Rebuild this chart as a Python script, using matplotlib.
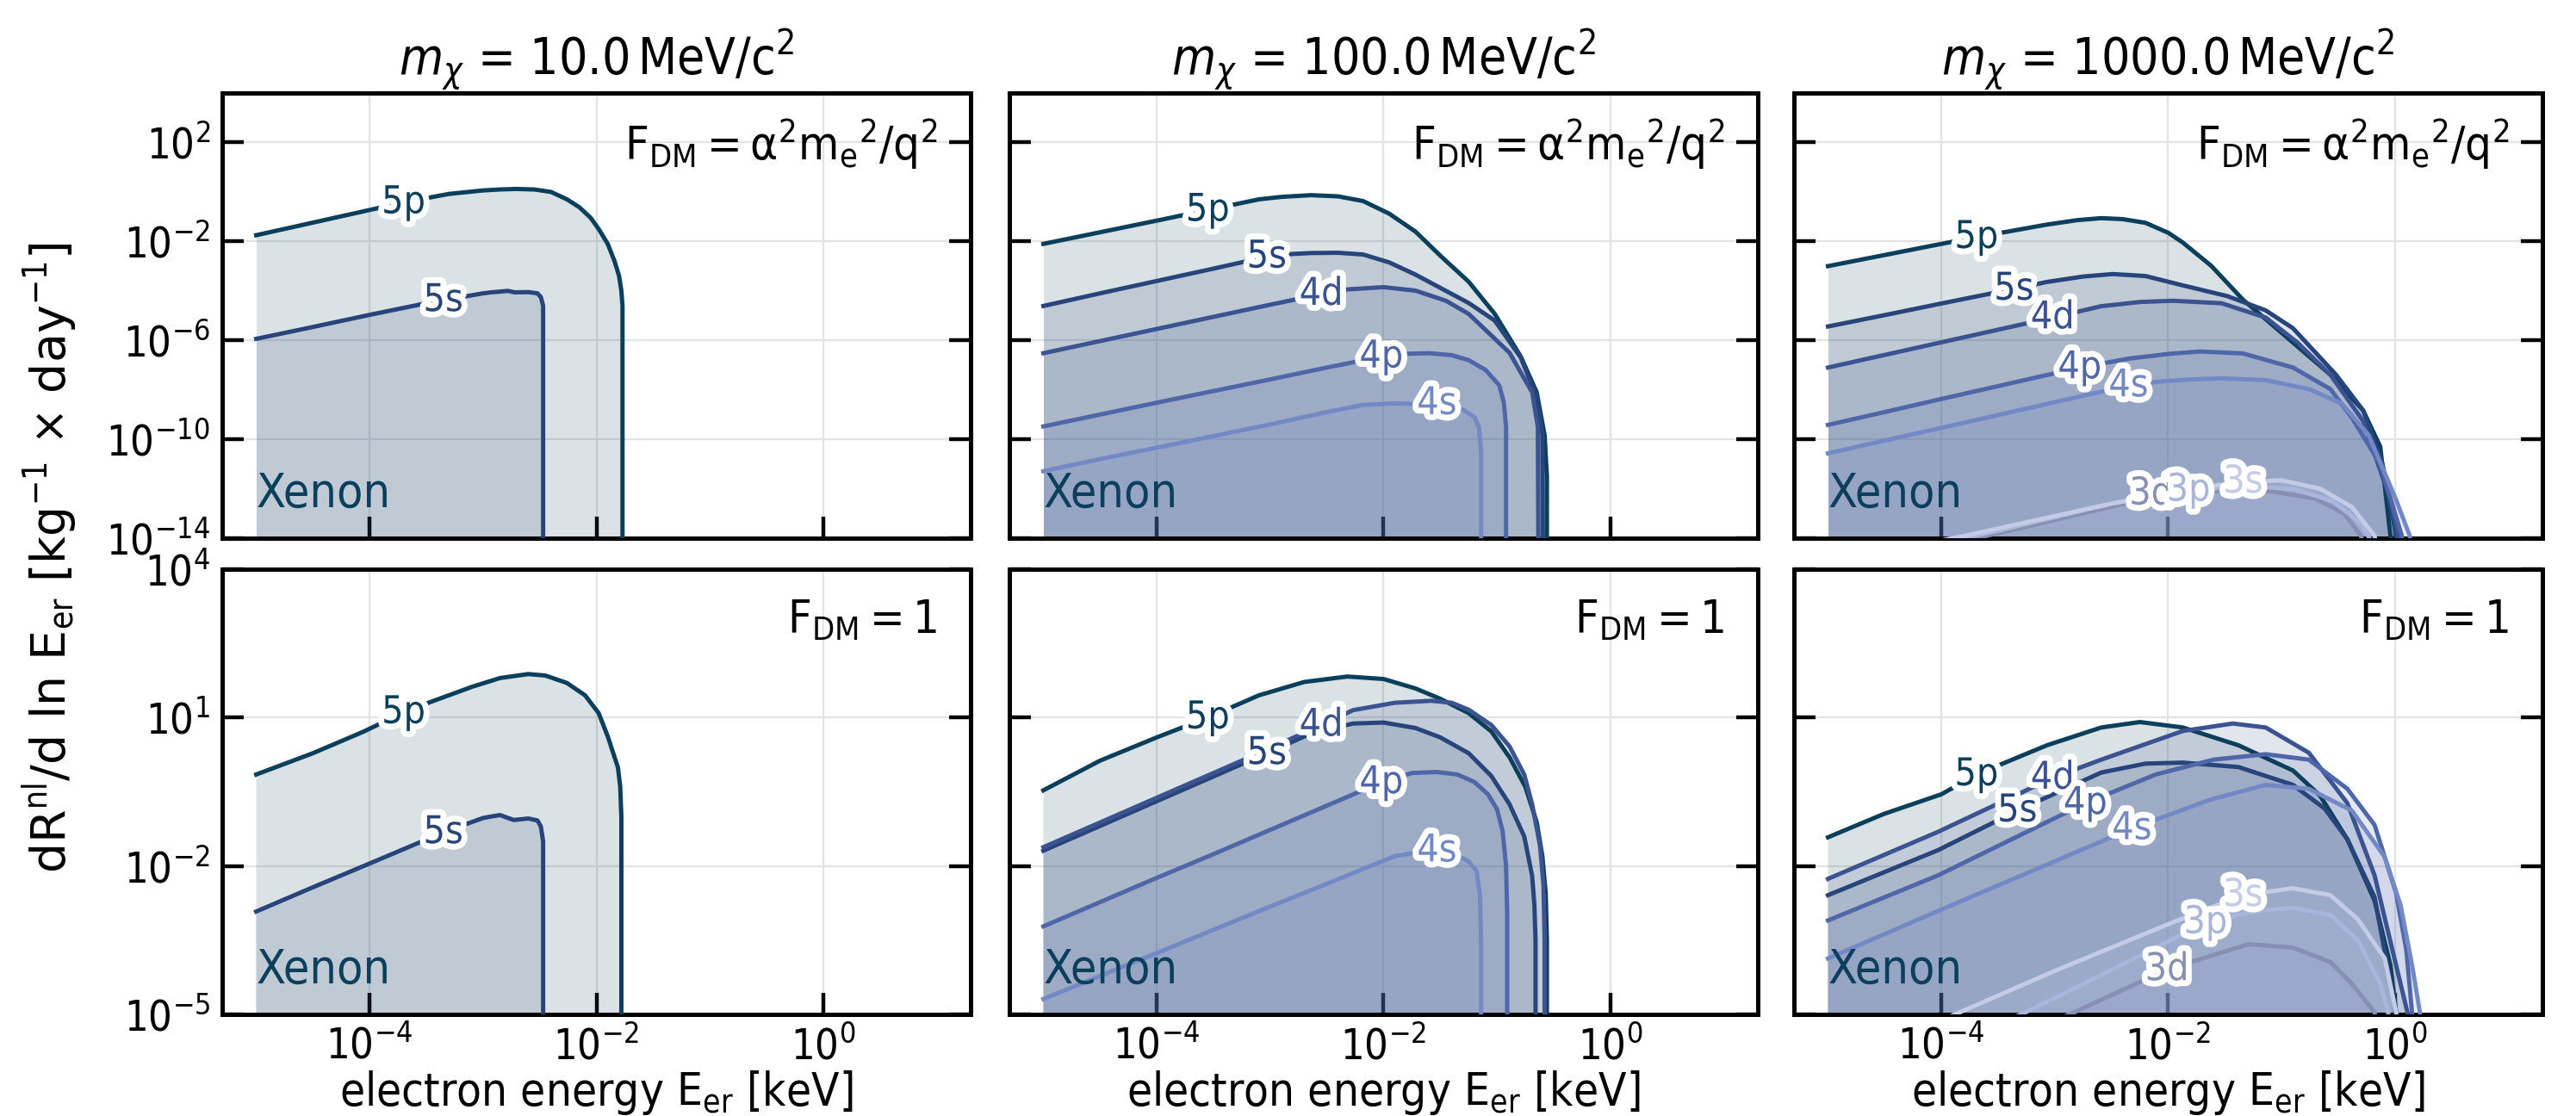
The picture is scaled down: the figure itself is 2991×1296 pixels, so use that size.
import numpy as np
import matplotlib
matplotlib.use('Agg')
import matplotlib.pyplot as plt
import matplotlib.patheffects as pe
import matplotlib.font_manager as fm
from matplotlib.ticker import FixedLocator, NullLocator

# ---- data (log10 E [keV], log10 rate) ----
MASSES = ['10.0', '100.0', '1000.0']
FORM_FACTORS = [r'$\mathrm{F_{DM} = \alpha^2 m_e{}^2/q^2}$', r'$\mathrm{F_{DM} = 1}$']
SHELLS = ['5p', '5s', '4d', '4p', '4s', '3d', '3p', '3s']
SHELL_COLORS = ['#0c3f5c', '#27457a', '#3b5391', '#4f66a8', '#7389c6',
                '#8790b2', '#a9b5da', '#c3cbe6']
XTICKS = [1e-4, 1e-2, 1e0]
YTICKS_TOP = [1e-14, 1e-10, 1e-6, 1e-2, 1e2]
YTICKS_BOT = [1e-5, 1e-2, 1e1, 1e4]

# top row: F_DM = alpha^2 me^2 / q^2
m10_q2 = {
    '5p': ([-5.0, -4.5, -4.0, -3.72, -3.3, -3.0, -2.85, -2.71, -2.55, -2.4, -2.26, -2.15, -2.05, -1.98, -1.9, -1.84, -1.8, -1.78, -1.77, -1.77],
           [-1.75, -1.24, -0.73, -0.44, -0.08, 0.06, 0.1, 0.12, 0.1, 0.0, -0.3, -0.62, -1.05, -1.5, -2.1, -2.8, -3.4, -4.0, -4.6, -20]),
    '5s': ([-5.0, -4.5, -4.0, -3.5, -3.0, -2.93, -2.85, -2.78, -2.72, -2.6, -2.52, -2.49, -2.47, -2.47],
           [-5.94, -5.46, -4.97, -4.5, -4.1, -4.06, -4.03, -4.0, -4.06, -4.05, -4.1, -4.25, -4.6, -20]),
}
m100_q2 = {
    '5p': ([-5.0, -4.5, -4.0, -3.56, -3.1, -2.9, -2.64, -2.4, -2.18, -1.95, -1.72, -1.49, -1.25, -1.02, -0.79, -0.65, -0.58, -0.56, -0.56],
           [-2.1, -1.63, -1.16, -0.74, -0.3, -0.2, -0.13, -0.18, -0.37, -0.88, -1.6, -2.62, -3.63, -4.93, -6.66, -8.1, -9.84, -11.5, -20]),
    '5s': ([-5.0, -4.5, -4.0, -3.5, -3.03, -2.85, -2.64, -2.4, -2.18, -1.95, -1.72, -1.25, -1.02, -0.79, -0.65, -0.6, -0.59],
           [-4.61, -4.1, -3.6, -3.1, -2.62, -2.52, -2.47, -2.46, -2.53, -2.85, -3.34, -4.49, -5.2, -6.7, -8.3, -9.8, -20]),
    '4d': ([-5.0, -4.5, -4.0, -3.5, -3.0, -2.55, -2.35, -2.0, -1.72, -1.45, -1.25, -0.89, -0.69, -0.64, -0.63],
           [-6.52, -6.03, -5.54, -5.05, -4.56, -4.13, -3.95, -3.85, -3.99, -4.4, -4.93, -6.5, -8.1, -9.5, -20]),
    '4p': ([-5.0, -4.5, -4.0, -3.5, -3.0, -2.5, -2.02, -1.85, -1.6, -1.4, -1.25, -1.1, -0.98, -0.94, -0.92, -0.92],
           [-9.48, -9.0, -8.52, -8.05, -7.58, -7.1, -6.66, -6.55, -6.52, -6.6, -6.8, -7.2, -7.82, -8.5, -9.5, -20]),
    '4s': ([-5.0, -4.5, -4.0, -3.5, -3.0, -2.5, -2.18, -1.9, -1.5, -1.3, -1.2, -1.16, -1.14, -1.14],
           [-11.29, -10.8, -10.34, -9.87, -9.4, -8.9, -8.61, -8.55, -8.6, -8.8, -9.1, -9.5, -10.5, -20]),
}
m1000_q2 = {
    '5p': ([-5.0, -4.5, -4.0, -3.69, -3.07, -2.8, -2.59, -2.4, -2.2, -2.0, -1.87, -1.62, -1.34, -0.9, -0.57, -0.28, -0.13, -0.04, 0.0],
           [-3.0, -2.55, -2.1, -1.83, -1.32, -1.14, -1.06, -1.1, -1.25, -1.65, -2.05, -2.99, -4.36, -6.09, -7.39, -8.84, -10.3, -13.9, -16]),
    '5s': ([-5.0, -4.5, -4.0, -3.36, -3.07, -2.75, -2.49, -2.2, -1.87, -1.48, -1.14, -0.9, -0.52, -0.28, -0.11, 0.01, 0.05],
           [-5.44, -4.98, -4.51, -3.92, -3.64, -3.42, -3.32, -3.4, -3.78, -4.21, -4.79, -5.51, -7.39, -8.84, -11.0, -13.9, -16]),
    '4d': ([-5.0, -4.5, -4.0, -3.5, -3.02, -2.59, -2.25, -1.96, -1.53, -1.14, -0.86, -0.57, -0.28, -0.04, 0.03, 0.07],
           [-7.1, -6.59, -6.08, -5.57, -5.08, -4.62, -4.45, -4.4, -4.5, -5.08, -6.09, -7.39, -9.27, -12.45, -13.9, -16]),
    '4p': ([-5.0, -4.5, -4.0, -3.5, -2.78, -2.35, -2.0, -1.72, -1.34, -0.9, -0.57, -0.38, -0.13, 0.06, 0.1],
           [-9.42, -8.9, -8.37, -7.85, -7.1, -6.74, -6.55, -6.45, -6.53, -7.1, -7.97, -9.13, -11.0, -13.9, -16]),
    '4s': ([-5.0, -4.5, -4.0, -3.5, -3.0, -2.35, -2.11, -1.8, -1.53, -1.14, -0.76, -0.47, -0.23, 0.01, 0.13, 0.17],
           [-10.57, -10.05, -9.54, -9.02, -8.5, -7.83, -7.68, -7.58, -7.54, -7.61, -7.97, -8.55, -9.85, -12.45, -13.9, -16]),
    '3d': ([-5.0, -3.5, -2.15, -1.6, -1.1, -0.7, -0.45, -0.3, -0.22],
           [-15.3, -13.8, -12.35, -12.1, -12.1, -12.4, -13.0, -13.9, -16]),
    '3p': ([-5.0, -3.5, -2.5, -1.82, -1.3, -0.9, -0.55, -0.3, -0.2, -0.12],
           [-15.2, -13.7, -12.6, -12.05, -11.9, -12.0, -12.5, -13.4, -14.2, -16]),
    '3s': ([-5.0, -3.79, -2.5, -1.8, -1.34, -1.0, -0.66, -0.38, -0.18, -0.1],
           [-15.0, -13.9, -12.6, -12.0, -11.72, -11.66, -12.0, -12.74, -13.9, -16]),
}

# bottom row: F_DM = 1
m10_f1 = {
    '5p': ([-5.0, -4.5, -4.05, -3.66, -3.1, -2.85, -2.6, -2.45, -2.26, -2.1, -1.98, -1.9, -1.84, -1.81, -1.79, -1.78, -1.78],
           [-0.15, 0.28, 0.72, 1.15, 1.62, 1.8, 1.88, 1.85, 1.7, 1.45, 1.09, 0.62, 0.2, -0.01, -0.4, -1.0, -10]),
    '5s': ([-5.0, -4.5, -4.0, -3.35, -3.0, -2.93, -2.85, -2.73, -2.6, -2.52, -2.49, -2.47, -2.47],
           [-2.92, -2.43, -1.95, -1.32, -1.03, -1.0, -0.97, -1.07, -1.04, -1.08, -1.2, -1.5, -10]),
}
m100_f1 = {
    '5p': ([-5.0, -4.5, -4.0, -3.54, -3.1, -2.7, -2.32, -2.0, -1.72, -1.5, -1.25, -1.05, -0.89, -0.75, -0.65, -0.6, -0.57, -0.56, -0.56],
           [-0.47, 0.13, 0.6, 1.01, 1.45, 1.72, 1.83, 1.78, 1.59, 1.38, 1.09, 0.72, 0.2, -0.4, -1.11, -1.8, -2.57, -3.5, -10]),
    '5s': ([-5.0, -4.5, -4.0, -3.5, -3.03, -2.64, -2.27, -2.0, -1.72, -1.5, -1.25, -1.05, -0.89, -0.76, -0.69, -0.67, -0.66, -0.66],
           [-1.69, -1.19, -0.69, -0.19, 0.28, 0.68, 0.88, 0.9, 0.79, 0.6, 0.28, -0.18, -0.75, -1.4, -2.2, -2.8, -3.5, -10]),
    '4d': ([-5.0, -4.5, -4.0, -3.5, -3.0, -2.55, -2.27, -1.9, -1.58, -1.4, -1.25, -1.05, -0.89, -0.76, -0.69, -0.62, -0.59, -0.58, -0.58],
           [-1.62, -1.12, -0.62, -0.12, 0.38, 0.85, 1.15, 1.3, 1.34, 1.3, 1.16, 0.85, 0.42, -0.15, -0.75, -1.6, -2.4, -3.5, -10]),
    '4p': ([-5.0, -4.5, -4.0, -3.5, -3.0, -2.5, -2.02, -1.75, -1.53, -1.35, -1.2, -1.08, -1.0, -0.95, -0.92, -0.91, -0.91],
           [-3.22, -2.73, -2.24, -1.76, -1.27, -0.78, -0.31, -0.12, -0.1, -0.15, -0.3, -0.55, -0.85, -1.3, -2.0, -3.0, -10]),
    '4s': ([-5.0, -4.5, -4.0, -3.5, -3.0, -2.5, -2.18, -1.9, -1.72, -1.53, -1.38, -1.25, -1.18, -1.15, -1.14, -1.14],
           [-4.69, -4.22, -3.76, -3.29, -2.82, -2.36, -2.06, -1.8, -1.73, -1.69, -1.75, -1.91, -2.1, -2.6, -3.5, -10]),
}
m1000_f1 = {
    '5p': ([-5.0, -4.51, -4.0, -3.69, -3.07, -2.59, -2.25, -1.87, -1.38, -0.9, -0.66, -0.42, -0.18, -0.04, 0.01, 0.05],
           [-1.42, -0.95, -0.55, -0.15, 0.44, 0.8, 0.91, 0.8, 0.44, -0.07, -0.58, -1.46, -2.7, -4.01, -4.96, -6]),
    '5s': ([-5.0, -4.03, -3.33, -2.59, -2.2, -1.87, -1.38, -0.9, -0.62, -0.42, -0.18, 0.01, 0.05],
           [-2.59, -1.68, -0.88, -0.11, 0.07, 0.09, 0.0, -0.36, -0.84, -1.46, -2.63, -4.96, -6]),
    '4d': ([-5.0, -4.03, -3.02, -2.59, -1.87, -1.43, -1.14, -0.76, -0.42, -0.18, 0.01, 0.11, 0.15],
           [-2.26, -1.31, -0.22, 0.15, 0.73, 0.88, 0.8, 0.29, -0.73, -2.19, -4.01, -4.96, -6]),
    '4p': ([-5.0, -4.03, -2.73, -2.11, -1.6, -1.14, -0.76, -0.42, -0.18, 0.01, 0.1, 0.15, 0.2],
           [-3.1, -2.19, -0.73, -0.15, 0.15, 0.26, 0.15, -0.44, -1.17, -2.55, -3.7, -4.96, -6]),
    '4s': ([-5.0, -4.03, -2.32, -1.63, -1.14, -0.76, -0.38, -0.09, 0.05, 0.15, 0.22, 0.25],
           [-3.87, -2.91, -1.24, -0.66, -0.36, -0.44, -0.88, -1.82, -2.8, -4.0, -4.96, -6]),
    '3d': ([-5.0, -2.83, -2.01, -1.29, -0.9, -0.57, -0.38, -0.18, -0.1],
           [-7.0, -4.96, -4.09, -3.58, -3.65, -3.94, -4.38, -4.96, -6]),
    '3p': ([-5.0, -3.26, -2.5, -1.67, -1.2, -0.9, -0.57, -0.33, -0.13, -0.06, 0.0],
           [-6.7, -4.96, -4.1, -3.14, -2.9, -2.85, -2.99, -3.5, -4.38, -4.96, -6]),
    '3s': ([-5.0, -3.84, -3.0, -1.96, -1.34, -0.9, -0.57, -0.33, -0.09, 0.01, 0.05],
           [-6.1, -4.96, -4.12, -3.14, -2.59, -2.45, -2.59, -3.07, -3.87, -4.96, -6]),
}

# inline label positions (log10 E)
lab_m10 = {'5p': -3.7, '5s': -3.35}
lab_m100 = {'5p': -3.55, '5s': -3.03, '4d': -2.55, '4p': -2.02, '4s': -1.53}
lab_m1000_q2 = {'5p': -3.69, '5s': -3.36, '4d': -3.02, '4p': -2.78, '4s': -2.35,
                '3d': -2.15, '3p': -1.82, '3s': -1.34}
lab_m1000_f1 = {'5p': -3.69, '5s': -3.33, '4d': -3.02, '4p': -2.73, '4s': -2.32,
                '3d': -2.01, '3p': -1.67, '3s': -1.34}

panels = [[(m10_q2, lab_m10), (m100_q2, lab_m100), (m1000_q2, lab_m1000_q2)],
          [(m10_f1, lab_m10), (m100_f1, lab_m100), (m1000_f1, lab_m1000_f1)]]

# ---- fonts: the figure uses a narrow sans ----
family, stretch = 'DejaVu Sans', 'normal'
for f in fm.fontManager.ttflist:
    if f.fname.endswith('DejaVuSansCondensed.ttf'):
        family = f.name
        stretch = 'condensed' if f.name == 'DejaVu Sans' else 'normal'
        break
else:
    if 'Liberation Sans Narrow' in {f.name for f in fm.fontManager.ttflist}:
        family = 'Liberation Sans Narrow'

suffix = ':stretch=condensed' if stretch == 'condensed' else ''
plt.rcParams['font.family'] = [family, 'DejaVu Sans']
plt.rcParams['font.stretch'] = stretch
plt.rcParams['mathtext.fontset'] = 'custom'
plt.rcParams['mathtext.rm'] = family + suffix
plt.rcParams['mathtext.sf'] = family + suffix
plt.rcParams['mathtext.it'] = family + ':style=italic' + suffix
plt.rcParams['mathtext.bf'] = family + ':weight=bold' + suffix

fig = plt.figure(figsize=(14.955, 6.48), dpi=200)
W, H = 2991, 1296
col_left = [258, 1172, 2083]
col_w = 869
row_top = [108, 661]
row_h = 517

outline = [pe.withStroke(linewidth=5, foreground='white')]

for r in range(2):
    for c in range(3):
        data, labels = panels[r][c]
        ax = fig.add_axes([col_left[c] / W, 1 - (row_top[r] + row_h) / H, col_w / W, row_h / H])
        ax.set_xscale('log')
        ax.set_yscale('log')
        ax.set_axisbelow(True)
        for k, sh in enumerate(SHELLS):
            if sh not in data:
                continue
            le, lr = data[sh]
            e = 10.0 ** np.array(le)
            rate = 10.0 ** np.array(lr)
            col = SHELL_COLORS[k]
            ax.fill_between(e, rate, 1e-30, color=col, alpha=0.15, lw=0)
            ax.plot(e, rate, color=col, lw=1.8, zorder=3)
        ylim = (1e-14, 1e4) if r == 0 else (1e-5, 1e4)
        for k, sh in enumerate(SHELLS):
            if sh not in labels:
                continue
            le, lr = data[sh]
            lx = labels[sh]
            top = int(np.argmax(lr)) + 1
            ly = np.interp(lx, le[:top], lr[:top])
            ly = max(ly, np.log10(ylim[0]) + (0.6 if r == 1 else 1.8))
            ax.text(10 ** lx, 10 ** ly, sh, color=SHELL_COLORS[k], fontsize=16,
                    ha='center', va='center', zorder=5, path_effects=outline)
        ax.text(0.045, 0.1, 'Xenon', transform=ax.transAxes, color=SHELL_COLORS[0],
                fontsize=20, ha='left', va='center')
        ax.text(0.955, 0.885, FORM_FACTORS[r], transform=ax.transAxes, fontsize=19.5,
                ha='right', va='center')
        ax.set_xlim(10 ** -5.3, 10 ** 1.3)
        ax.set_ylim(*ylim)
        ax.xaxis.set_major_locator(FixedLocator(XTICKS))
        ax.yaxis.set_major_locator(FixedLocator(YTICKS_TOP if r == 0 else YTICKS_BOT))
        ax.xaxis.set_minor_locator(NullLocator())
        ax.yaxis.set_minor_locator(NullLocator())
        ax.grid(True, color='#e3e3e3', lw=0.8)
        ax.tick_params(which='major', direction='in', length=9, width=1.6,
                       right=True, top=False, labelsize=17.5, pad=5)
        for sp in ax.spines.values():
            sp.set_linewidth(1.8)
        if c > 0:
            ax.tick_params(labelleft=False)
        if r == 0:
            ax.tick_params(labelbottom=False)
            ax.set_title(r'$m_\chi$ = ' + MASSES[c] + r'$\,\mathrm{MeV/c^2}$', fontsize=21, pad=6)
        else:
            ax.set_xlabel(r'electron energy $\mathrm{E_{er}}$ [keV]', fontsize=19, labelpad=0)

fig.text(0.019, 0.5, r'dR$^{\rm nl}$/d ln E$_{\rm er}$ [kg$^{-1}$ $\times$ day$^{-1}$]',
         rotation=90, ha='center', va='center', fontsize=20,
         family='DejaVu Sans', stretch='normal', math_fontfamily='dejavusans')

fig.savefig('out.png', dpi=200)
